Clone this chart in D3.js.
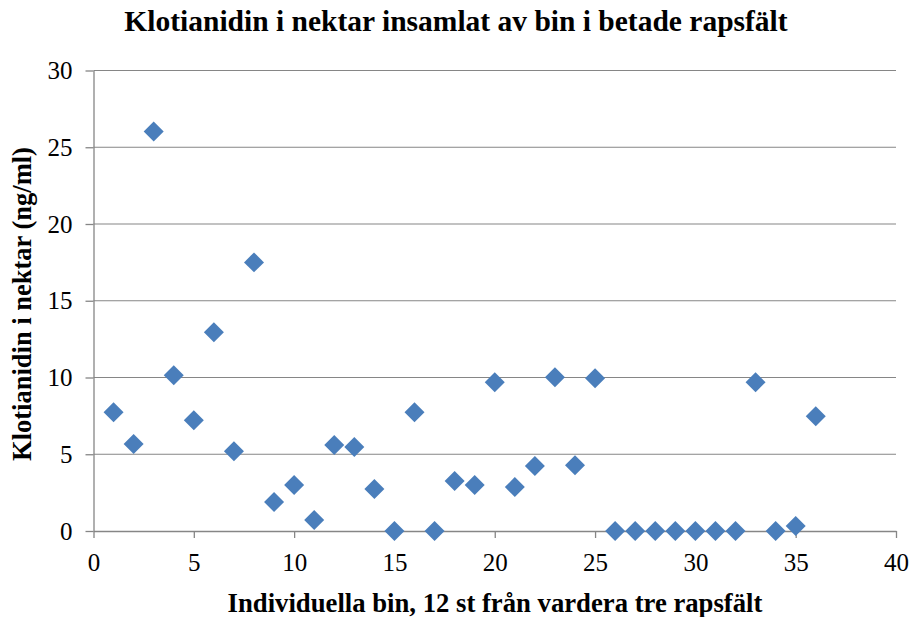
<!DOCTYPE html>
<html>
<head>
<meta charset="utf-8">
<script src="https://cdn.jsdelivr.net/npm/d3@7"></script>
<style>
  body { margin: 0; background: #fff; }
  svg text { font-family: "Liberation Serif", "Times New Roman", serif; }
</style>
</head>
<body>
<div id="chart-area"></div>
<script>
const beeIds = [1,2,3,4,5,6,7,8,9,10,11,12,13,14,15,16,17,18,19,20,21,22,23,24,25,26,27,28,29,30,31,32,33,34,35,36];
const clothianidin = [7.74,5.66,26.02,10.15,7.22,12.95,5.2,17.5,1.89,2.99,0.72,5.6,5.47,2.73,0,7.74,0,3.25,2.99,9.69,2.86,4.23,10.02,4.29,9.95,0,0,0,0,0,0,0,9.69,0,0.33,7.48];
const xTicks = [0,5,10,15,20,25,30,35,40];
const yTicks = [0,5,10,15,20,25,30];

const w = 912;
const h = 617;
const plotLeft = 93.5, plotRight = 896, plotTop = 70.5, plotBottom = 531;

const xScale = d3.scaleLinear().domain([0, 40]).range([plotLeft, plotRight]);
const yScale = d3.scaleLinear().domain([0, 30]).range([plotBottom, plotTop]);

const svg = d3.select("#chart-area")
    .append("svg")
    .attr("width", w)
    .attr("height", h);

// gridlines
svg.append("g")
    .selectAll("line")
    .data(yTicks.filter(d => d > 0))
    .enter()
    .append("line")
    .attr("x1", plotLeft)
    .attr("x2", plotRight)
    .attr("y1", d => yScale(d))
    .attr("y2", d => yScale(d))
    .attr("stroke", "#868686")
    .attr("stroke-width", 1.2);

const xAxis = d3.axisBottom(xScale).tickValues(xTicks).tickSize(7).tickSizeOuter(0).tickPadding(15);
const yAxis = d3.axisLeft(yScale).tickValues(yTicks).tickSize(8).tickSizeOuter(0).tickPadding(13);

const gx = svg.append("g")
    .attr("transform", "translate(0," + plotBottom + ")")
    .attr('id', 'x-axis')
    .call(xAxis);

const gy = svg.append("g")
    .attr("transform", "translate(" + plotLeft + ", 0)")
    .attr('id', 'y-axis')
    .call(yAxis);

[gx, gy].forEach(g => {
    g.attr("font-family", null).attr("font-size", null);
    g.selectAll("path, line").attr("stroke", "#868686").attr("stroke-width", 1.3);
    g.selectAll("text")
        .attr("fill", "#000")
        .style("font-family", "'Liberation Serif', 'Times New Roman', serif")
        .style("font-size", "25px");
});

// points
svg.append("g")
    .selectAll("path")
    .data(clothianidin)
    .enter()
    .append("path")
    .attr("d", d3.symbol().type(d3.symbolSquare).size(200))
    .attr("transform", (d, i) => "translate(" + xScale(beeIds[i]) + "," + yScale(d) + ") rotate(45)")
    .attr("fill", "#4a7ebb");

svg.append("text")
    .attr("x", 456)
    .attr("y", 31)
    .attr("text-anchor", "middle")
    .style("font-size", "29.5px")
    .style("font-weight", "bold")
    .text("Klotianidin i nektar insamlat av bin i betade rapsfält");

svg.append("text")
    .attr("x", 495)
    .attr("y", 612)
    .attr("text-anchor", "middle")
    .style("font-size", "26.7px")
    .style("font-weight", "bold")
    .text("Individuella bin, 12 st från vardera tre rapsfält");

svg.append("text")
    .attr("transform", "translate(31,304) rotate(-90)")
    .attr("text-anchor", "middle")
    .style("font-size", "26.5px")
    .style("font-weight", "bold")
    .text("Klotianidin i nektar (ng/ml)");
</script>
</body>
</html>
